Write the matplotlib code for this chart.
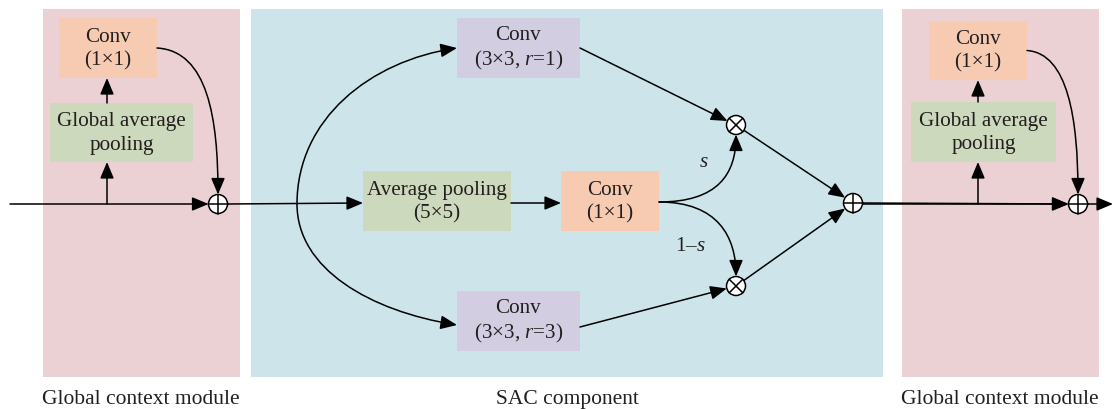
import matplotlib.pyplot as plt
from matplotlib.patches import Rectangle, Circle, FancyArrowPatch
from matplotlib.path import Path

plt.rcParams['font.family'] = ['Liberation Serif', 'DejaVu Serif']
plt.rcParams['mathtext.fontset'] = 'custom'
plt.rcParams['mathtext.rm'] = 'Liberation Serif'
plt.rcParams['mathtext.it'] = 'Liberation Serif:italic'

# labels
panel_labels = ['Global context module', 'SAC component', 'Global context module']
gcm_labels = ['Conv\n(1×1)', 'Global average\npooling']
sac_labels = ['Conv\n(3×3, $r$=1)', 'Average pooling\n(5×5)', 'Conv\n(1×1)', 'Conv\n(3×3, $r$=3)']
weight_labels = ['$s$', '1–$s$']

# colours
pink = '#ecd1d4'
cyan = '#cde5ea'
orange = '#f6cbb2'
green = '#cdd9bc'
purple = '#d2cde0'
ink = '#231f20'

fig = plt.figure(figsize=(11.15, 4.1), dpi=100)
ax = fig.add_axes([0, 0, 1, 1])
ax.set_xlim(0, 1115)
ax.set_ylim(410, 0)
ax.axis('off')

FS = 15.2
R = 9.5
LW = 1.1


def box(x0, y0, x1, y1, color, label):
    ax.add_patch(Rectangle((x0, y0), x1 - x0, y1 - y0, fc=color, ec='none', zorder=1))
    if label:
        ax.text((x0 + x1) / 2, (y0 + y1) / 2, label, ha='center', va='center',
                fontsize=FS, color=ink, linespacing=1.3, zorder=3)


def arrow(verts, head=True, curve=False):
    if curve:
        codes = [Path.MOVETO, Path.CURVE4, Path.CURVE4, Path.CURVE4]
    else:
        codes = [Path.MOVETO] + [Path.LINETO] * (len(verts) - 1)
    style = '-|>,head_length=1.0,head_width=0.42' if head else '-'
    ax.add_patch(FancyArrowPatch(path=Path(verts, codes), arrowstyle=style,
                                 mutation_scale=10, lw=LW, color='black',
                                 shrinkA=0, shrinkB=0, zorder=4))


def node(cx, cy, kind):
    ax.add_patch(Circle((cx, cy), R, fc='white', ec='black', lw=LW, zorder=5))
    if kind == 'plus':
        ax.plot([cx - R, cx + R], [cy, cy], color='black', lw=LW, zorder=6)
        ax.plot([cx, cx], [cy - R, cy + R], color='black', lw=LW, zorder=6)
    else:
        d = R * 0.707
        ax.plot([cx - d, cx + d], [cy - d, cy + d], color='black', lw=LW, zorder=6)
        ax.plot([cx - d, cx + d], [cy + d, cy - d], color='black', lw=LW, zorder=6)


# panels
ax.add_patch(Rectangle((43, 10), 197, 368, fc=pink, ec='none', zorder=0))
ax.add_patch(Rectangle((251, 10), 632, 368, fc=cyan, ec='none', zorder=0))
ax.add_patch(Rectangle((902, 10), 197, 368, fc=pink, ec='none', zorder=0))

ax.text(141, 400, panel_labels[0], ha='center', va='center', fontsize=15.5, color=ink)
ax.text(567, 400, panel_labels[1], ha='center', va='center', fontsize=15.5, color=ink)
ax.text(1000, 400, panel_labels[2], ha='center', va='center', fontsize=15.5, color=ink)


# global context module
def gcm(conv, gap, vx, px, xin):
    box(*conv, orange, gcm_labels[0])
    box(*gap, green, gcm_labels[1])
    arrow([(xin, 205), (px - R, 205)])
    arrow([(vx, 205), (vx, gap[3])])
    arrow([(vx, gap[1]), (vx, conv[3])])
    cy = (conv[1] + conv[3]) / 2
    arrow([(conv[2], cy), (px - 10, cy + 3), (px, 120), (px, 205 - R)], curve=True)
    node(px, 205, 'plus')


gcm((59, 19, 157, 79), (50, 104, 193, 163), 107, 218, 10)
gcm((929, 22, 1027, 81), (911, 103, 1056, 163), 978, 1078, 862)
arrow([(1078 + R, 205), (1113, 205)])

# SAC component
box(457, 19, 580, 79, purple, sac_labels[0])
box(363, 172, 511, 232, green, sac_labels[1])
box(561, 172, 659, 232, orange, sac_labels[2])
box(457, 292, 580, 352, purple, sac_labels[3])

arrow([(218 + R, 205), (363, 204)])
arrow([(511, 204), (561, 204)])

# big bypass curve to the dilated convs
arrow([(297, 205), (297, 120), (370, 62), (457, 49)], curve=True)
arrow([(297, 205), (297, 270), (370, 312), (457, 326)], curve=True)

ox, oy_top, oy_bot = 736, 126, 287
px, py = 853, 204
node(ox, oy_top, 'times')
node(ox, oy_bot, 'times')
node(px, py, 'plus')

arrow([(580, 49), (727.5, 122)])
arrow([(580, 328), (726.8, 289.5)])
arrow([(659, 203), (718, 203), (736, 175), (ox, oy_top + R)], curve=True)
arrow([(659, 203), (718, 203), (736, 238), (ox, oy_bot - R)], curve=True)
arrow([(743.9, 131.3), (845.1, 198.7)])
arrow([(743.8, 281.5), (845.2, 209.5)])
arrow([(px + R, py), (1078 - R, 205)])

ax.text(704, 163, weight_labels[0], ha='center', va='center', fontsize=FS, color=ink)
ax.text(690, 247, weight_labels[1], ha='center', va='center', fontsize=FS, color=ink)

plt.savefig('out.png', dpi=100)
